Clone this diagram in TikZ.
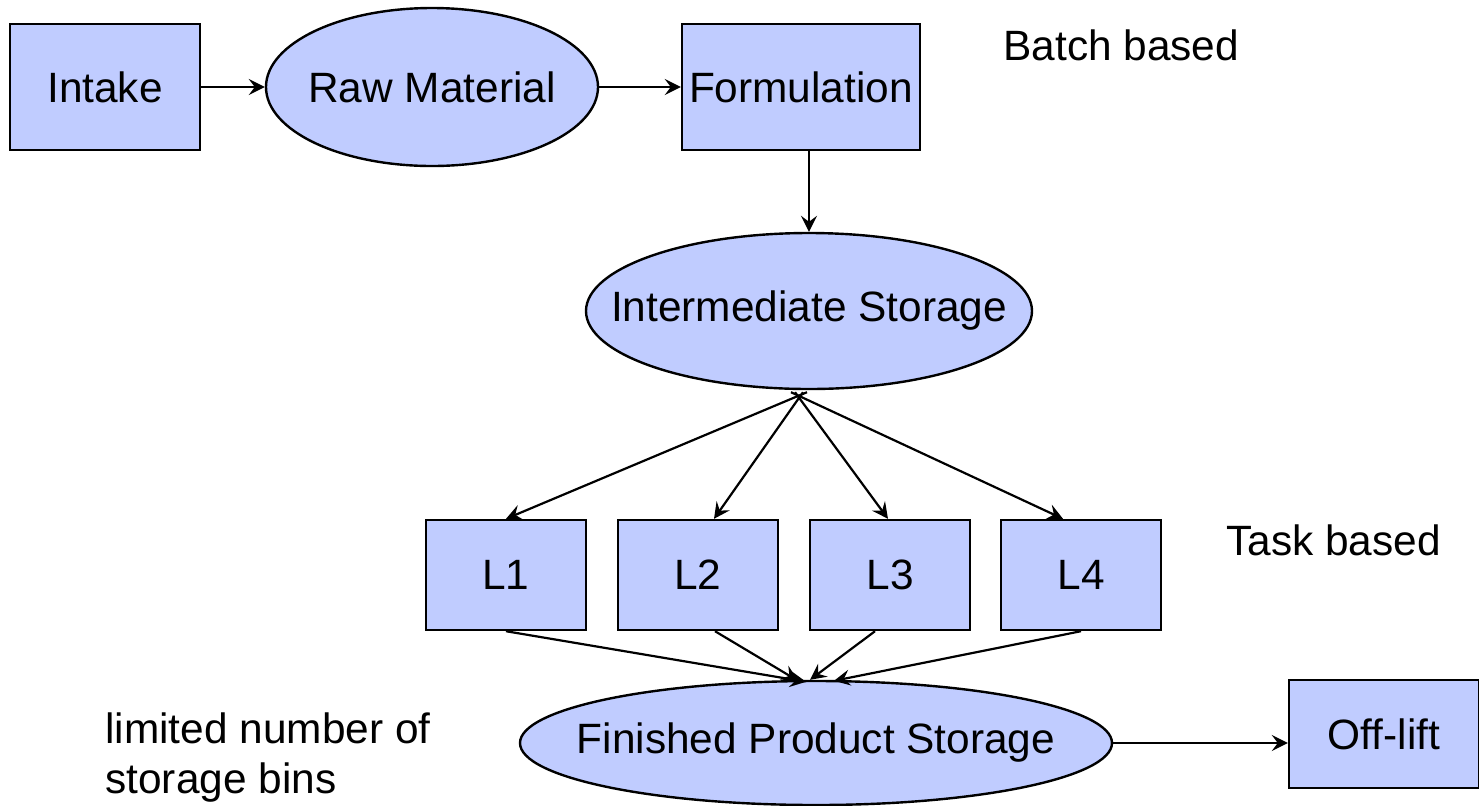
\documentclass[tikz,border=0pt]{standalone}
\usepackage{fontspec}
\setmainfont{Liberation Sans}
\usetikzlibrary{shapes.geometric,arrows.meta,calc}
\definecolor{boxfill}{RGB}{192,204,255}
\tikzset{
  base/.style={draw=black, line width=1.2pt, fill=boxfill, inner sep=0pt,
    font=\fontsize{21.2}{25}\selectfont},
  stepbox/.style={base, rectangle, minimum width=#1, minimum height=63pt},
  stepbox/.default=95pt,
  % the ellipse size comes from its minimum width and height only
  store/.style={base, ellipse, inner xsep=-70pt, inner ysep=-20pt},
  flow/.style={line width=1.1pt, -{Stealth[length=8pt,width=8pt,inset=3pt]}},
  note/.style={font=\fontsize{21.2}{25}\selectfont, anchor=west, inner sep=0pt, align=left}
}
\begin{document}
\begin{tikzpicture}[x=0.5pt,y=-0.5pt]
\useasboundingbox (0,0) rectangle (1479,805);

% top row
\node[stepbox] (intake) at (105,87) {Intake};
\node[store, minimum width=166pt, minimum height=79pt] (raw) at (432,87) {Raw Material};
\node[stepbox=119pt] (form) at (801,87) {Formulation};
\node[note] (batch) at (1003,45) {Batch based};

% intermediate storage
\node[store, minimum width=223pt, minimum height=78pt] (inter) at (809,311) {Intermediate Storage};

% lines
\node[stepbox=80pt, minimum height=55pt] (l1) at (506,575) {L1};
\node[stepbox=80pt, minimum height=55pt] (l2) at (698,575) {L2};
\node[stepbox=80pt, minimum height=55pt] (l3) at (890,575) {L3};
\node[stepbox=80pt, minimum height=55pt] (l4) at (1081,575) {L4};
\node[note] (task) at (1226,540) {Task based};

% finished product and off-lift
\node[store, minimum width=296pt, minimum height=62pt] (fps) at (816,743) {Finished Product Storage};
\node[stepbox=95pt, minimum height=54pt] (off) at (1384,734) {Off-lift};
\node[note] (bins) at (105,758) {limited number of\\storage bins};

% connectors
\draw[flow] (intake) -- (raw);
\draw[flow] (raw) -- (form);
\draw[flow] (inter.north |- form.south) -- (inter.north);

\coordinate (hub) at ($(inter.south)+(-10,2)$);
\draw[flow] ($(hub)+(8,0)$) -- (l1.north);
\draw[flow] ($(hub)+(4,0)$) -- ($(l2.north)+(16,0)$);
\draw[flow] ($(hub)+(-4,0)$) -- ($(l3.north)+(-2,0)$);
\draw[flow] ($(hub)+(-8,0)$) -- ($(l4.north)+(-18,0)$);

\draw[flow] (l1.south) -- ($(fps.north)+(-10,2)$);
\draw[flow] ($(l2.south)+(17,0)$) -- ($(fps.north)+(-18,1)$);
\draw[flow] ($(l3.south)+(-15,0)$) -- ($(fps.north)+(-6,0)$);
\draw[flow] (l4.south) -- ($(fps.north)+(18,1)$);

\draw[flow] (fps.east) -- (fps.east -| off.west);
\end{tikzpicture}
\end{document}
